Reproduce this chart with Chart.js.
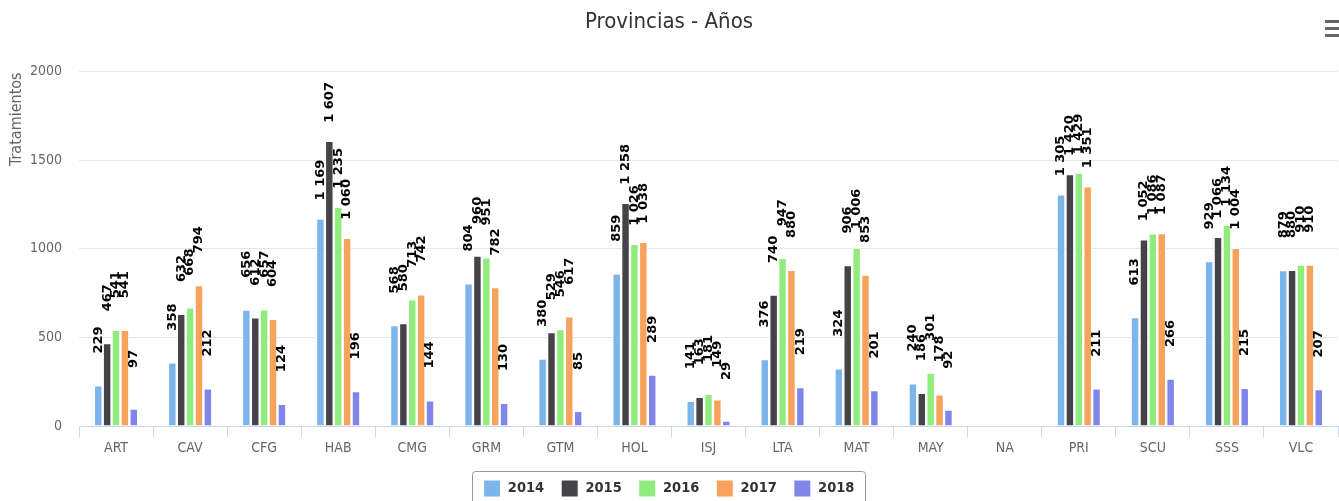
<!DOCTYPE html>
<html>
<head>
<meta charset="utf-8">
<script src="https://cdn.jsdelivr.net/npm/chart.js@4"></script>
<style>
  html, body { margin: 0; padding: 0; background: #fff; overflow: hidden; }
  #wrap { position: relative; width: 1339px; height: 530px; }
</style>
</head>
<body>
<div id="wrap"><canvas id="provChart"></canvas></div>
<script>
// categories and series
var provincias = ['ART', 'CAV', 'CFG', 'HAB', 'CMG', 'GRM', 'GTM', 'HOL', 'ISJ', 'LTA', 'MAT', 'MAY', 'NA', 'PRI', 'SCU', 'SSS', 'VLC'];
var anios = ['2014', '2015', '2016', '2017', '2018'];
var v2014 = [229, 358, 656, 1169, 568, 804, 380, 859, 141, 376, 324, 240, null, 1305, 613, 929, 879];
var v2015 = [467, 632, 612, 1607, 580, 960, 529, 1258, 163, 740, 906, 186, null, 1420, 1052, 1066, 880];
var v2016 = [541, 668, 657, 1235, 713, 951, 546, 1026, 181, 947, 1006, 301, null, 1429, 1086, 1134, 910];
var v2017 = [541, 794, 604, 1060, 742, 782, 617, 1038, 149, 880, 853, 178, null, 1351, 1087, 1004, 910];
var v2018 = [97, 212, 124, 196, 144, 130, 85, 289, 29, 219, 201, 92, null, 211, 266, 215, 207];
var yTicks = [0, 500, 1000, 1500, 2000];

var colores = ['#7cb5ec', '#434348', '#90ed7d', '#f7a35c', '#8085e9'];
var series = [v2014, v2015, v2016, v2017, v2018];
var narrow = "'Liberation Sans Narrow', 'DejaVu Sans Condensed', 'Open Sans', sans-serif";

function formatNum(v) {
    // thousands with a space, like the original
    return String(v).replace(/\B(?=(\d{3})+(?!\d))/g, ' ');
}

// rotated value labels above each bar
var valueLabels = {
    id: 'valueLabels',
    afterDatasetsDraw: function (chart) {
        var ctx = chart.ctx;
        ctx.save();
        ctx.font = 'bold 13px "DejaVu Sans", sans-serif';
        ctx.fillStyle = '#000';
        ctx.textAlign = 'right';
        ctx.textBaseline = 'middle';
        chart.data.datasets.forEach(function (ds, i) {
            var meta = chart.getDatasetMeta(i);
            if (meta.hidden) return;
            meta.data.forEach(function (bar, j) {
                var v = ds.data[j];
                if (v === null || v === undefined) return;
                ctx.save();
                ctx.translate(bar.x, bar.y - 59);
                ctx.rotate(-Math.PI / 2);
                ctx.fillText(formatNum(v), 0, 0);
                ctx.restore();
            });
        });
        ctx.restore();
    }
};

// axis title on top of the y axis, legend frame and menu icon
var extras = {
    id: 'extras',
    afterDraw: function (chart) {
        var ctx = chart.ctx;
        var area = chart.chartArea;
        ctx.save();
        ctx.font = '16px ' + narrow;
        ctx.fillStyle = '#666';
        ctx.textAlign = 'right';
        ctx.textBaseline = 'middle';
        ctx.translate(17, area.top + 1);
        ctx.rotate(-Math.PI / 2);
        ctx.fillText('Tratamientos', 0, 0);
        ctx.restore();

        var boxes = chart.legend.legendHitBoxes;
        if (boxes && boxes.length) {
            var first = boxes[0], last = boxes[boxes.length - 1];
            var l = first.left - 12, r = last.left + last.width + 10;
            var t = first.top - 9;
            ctx.save();
            ctx.strokeStyle = '#999';
            ctx.lineWidth = 1;
            ctx.beginPath();
            ctx.roundRect(Math.round(l) + 0.5, Math.round(t) + 0.5, Math.round(r - l), 50, 3);
            ctx.stroke();
            ctx.restore();
        }

        ctx.save();
        ctx.fillStyle = '#666';
        [20, 27, 34].forEach(function (y) {
            ctx.fillRect(1325, y, 14, 3);
        });
        ctx.restore();
    }
};

var ctx = document.getElementById('provChart').getContext('2d');
new Chart(ctx, {
    type: 'bar',
    data: {
        labels: provincias,
        datasets: anios.map(function (a, i) {
            return {
                label: a,
                data: series[i],
                backgroundColor: colores[i],
                borderColor: '#fff',
                borderWidth: 1,
                categoryPercentage: 0.6,
                barPercentage: 0.95
            };
        })
    },
    options: {
        responsive: true,
        maintainAspectRatio: false,
        animation: false,
        layout: { padding: { left: 0, right: 1, top: 0, bottom: 23 } },
        plugins: {
            title: {
                display: true,
                text: 'Provincias - Años',
                color: '#333',
                font: { family: narrow, size: 22, weight: 'normal' },
                padding: { top: 9, bottom: 36 }
            },
            legend: {
                position: 'bottom',
                labels: {
                    boxWidth: 17,
                    boxHeight: 17,
                    padding: 17,
                    color: '#333',
                    font: { family: narrow, size: 14.5, weight: 'bold' }
                }
            },
            tooltip: { enabled: false }
        },
        scales: {
            x: {
                grid: {
                    offset: true,
                    drawOnChartArea: false,
                    color: '#ccd6eb',
                    tickLength: 11
                },
                border: { color: '#ccd6eb' },
                ticks: {
                    color: '#666',
                    padding: 3,
                    font: { family: narrow, size: 14 }
                },
                afterFit: function (scale) { scale.height = 37; }
            },
            y: {
                min: 0,
                max: 2000,
                afterBuildTicks: function (scale) {
                    scale.ticks = yTicks.map(function (v) { return { value: v }; });
                },
                grid: { color: '#e6e6e6', drawTicks: false },
                border: { display: false },
                ticks: {
                    color: '#666',
                    padding: 17,
                    font: { family: narrow, size: 14 },
                    callback: function (v) { return String(v); }
                },
                afterFit: function (scale) { scale.width = 79; }
            }
        }
    },
    plugins: [valueLabels, extras]
});
</script>
</body>
</html>
